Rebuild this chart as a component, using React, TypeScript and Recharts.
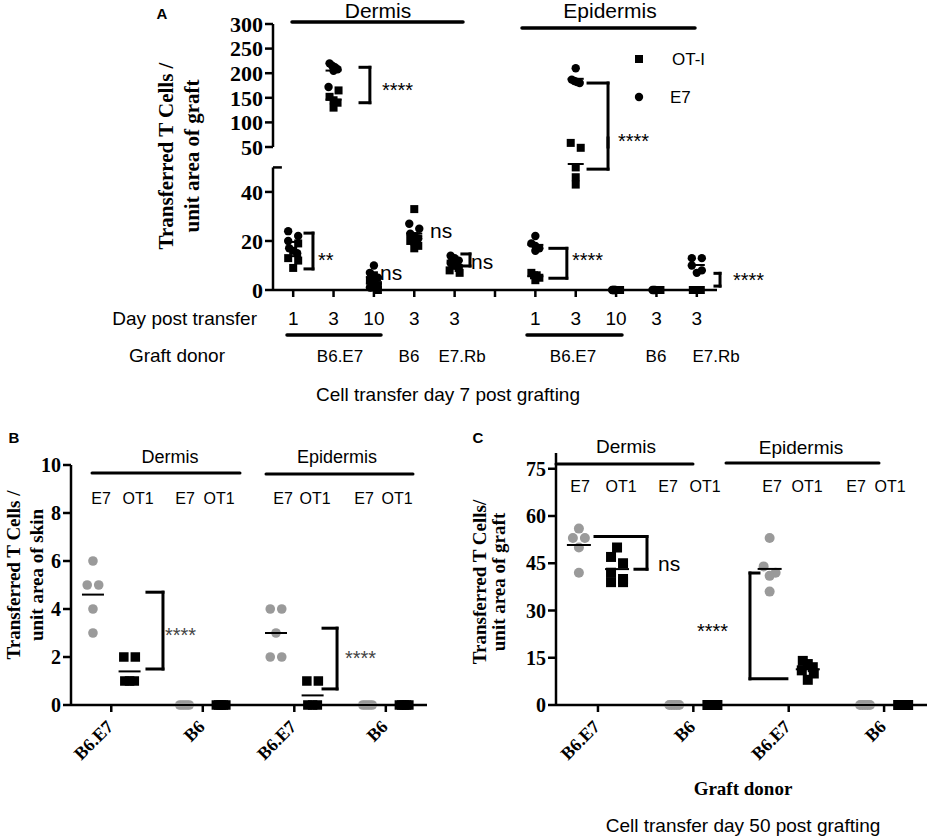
import React from "react";
import { ReferenceLine, Scatter, ScatterChart, XAxis, YAxis } from "recharts";

const W = 930;
const H = 838;
const SANS = '"Liberation Sans", Arial, sans-serif';
const SERIF = '"Liberation Serif", "Times New Roman", serif';
const GRAY = "#9a9a9a";

// ---------- data ----------
// Panel A: 11 slots along x, slot 5 is the empty gap between dermis and epidermis
const aDays = ["1", "3", "10", "3", "3", "", "1", "3", "10", "3", "3"];
const aE7 = [
  [24, 22, 20, 17, 15],
  [220, 215, 212, 208, 205, 172],
  [10, 7, 5, 3, 1],
  [27, 25, 23, 21, 19],
  [14, 13, 12, 11, 10],
  [],
  [22, 19, 18, 17, 16],
  [210, 187, 184, 182, 180],
  [0, 0, 0, 0, 0],
  [0, 0, 0],
  [13, 13, 10, 8, 7],
];
const aOT1 = [
  [19, 16, 13, 12, 9],
  [165, 152, 145, 140, 130],
  [6, 4, 2, 1, 0],
  [33, 22, 20, 18, 17],
  [11, 10, 9, 8, 7],
  [],
  [7, 6, 6, 5, 4],
  [60, 58, 50, 46, 43],
  [0, 0, 0, 0, 0],
  [0, 0, 0, 0],
  [0, 0, 0, 0, 0],
];
const aTopTicks = [50, 100, 150, 200, 250, 300];
const aLowTicks = [0, 20, 40];

// Panels B and C: dermis B6.E7, dermis B6, epidermis B6.E7, epidermis B6
const donors = ["B6.E7", "B6", "B6.E7", "B6"];
const bE7 = [[6, 5, 5, 4, 3], [0, 0, 0, 0, 0], [4, 4, 3, 2, 2], [0, 0, 0, 0, 0]];
const bOT1 = [[2, 2, 1, 1, 1], [0, 0, 0, 0, 0], [1, 1, 0, 0, 0], [0, 0, 0, 0, 0]];
const bTicks = [0, 2, 4, 6, 8, 10];
const cE7 = [[56, 53, 53, 50, 42], [0, 0, 0, 0, 0], [53, 44, 42, 41, 36], [0, 0, 0, 0, 0]];
const cOT1 = [[50, 47, 45, 42, 40, 39, 39], [0, 0, 0, 0, 0], [14, 13, 12, 11, 10, 8], [0, 0, 0, 0, 0]];
const cTicks = [0, 15, 30, 45, 60, 75];

// ---------- layout helpers ----------
type P = { x: number; y: number; dx: number };

const mean = (a: number[]) => a.reduce((s, v) => s + v, 0) / a.length;

// simple row-based beeswarm: points close in y share a row and get spread sideways
function swarm(vals: number[], ppu: number, size: number): number[] {
  const order = vals.map((_, i) => i).sort((a, b) => vals[b] - vals[a]);
  const out = vals.map(() => 0);
  let row: number[] = [];
  const flush = () => {
    const n = row.length;
    const step = n === 2 ? size + 2 : n > 2 ? size / (n - 1) : 0;
    row.forEach((idx, k) => (out[idx] = (k - (n - 1) / 2) * step));
    row = [];
  };
  for (const i of order) {
    if (row.length && (vals[row[0]] - vals[i]) * ppu > size * 0.8) flush();
    row.push(i);
  }
  flush();
  return out;
}

const A_SPLIT = 62;
function buildA(upper: boolean) {
  const e7: P[] = [];
  const ot: P[] = [];
  const means: P[] = [];
  aDays.forEach((_, g) => {
    const pts = [
      ...aE7[g].map((v) => ({ v, k: 0 })),
      ...aOT1[g].map((v) => ({ v, k: 1 })),
    ].filter((p) => p.v > A_SPLIT === upper);
    const offs = swarm(pts.map((p) => p.v), upper ? 123 / 250 : 152 / 62, 8);
    pts.forEach((p, i) => (p.k ? ot : e7).push({ x: g, y: p.v, dx: offs[i] }));
    [aE7[g], aOT1[g]].forEach((arr) => {
      if (arr.length && mean(arr) > A_SPLIT === upper) means.push({ x: g, y: mean(arr), dx: 0 });
    });
  });
  return { e7, ot, means };
}

function buildBC(e7s: number[][], ots: number[][], ppu: number, size: number) {
  const e7: P[] = [];
  const ot: P[] = [];
  const means: P[] = [];
  const col = (src: number[][], shift: number, dst: P[]) =>
    src.forEach((vals, g) => {
      const o = swarm(vals, ppu, size);
      vals.forEach((v, i) => dst.push({ x: g + shift, y: v, dx: o[i] }));
      means.push({ x: g + shift, y: mean(vals), dx: 0 });
    });
  col(e7s, -0.2, e7);
  col(ots, 0.2, ot);
  return { e7, ot, means };
}

const aUp = buildA(true);
const aLow = buildA(false);
const bData = buildBC(bE7, bOT1, 24, 9.5);
const cData = buildBC(cE7, cOT1, 3.15, 10);

// ---------- shapes ----------
const square = (size: number, fill: string) => (p: any) =>
  <rect x={p.cx + (p.payload?.dx ?? 0) - size / 2} y={p.cy - size / 2} width={size} height={size} fill={fill} />;
const dot = (r: number, fill: string) => (p: any) =>
  <circle cx={p.cx + (p.payload?.dx ?? 0)} cy={p.cy} r={r} fill={fill} />;
const meanBar = (w: number) => (p: any) =>
  <line x1={p.cx - w / 2} x2={p.cx + w / 2} y1={p.cy} y2={p.cy} stroke="#000" strokeWidth={2} />;

type Br = { xv: number; xt: number; xb: number; yt: number; yb: number };
function bracket(b: Br, key: string) {
  const segs: number[][] = [[b.xv, b.yt, b.xv, b.yb]];
  if (b.xt !== b.xv) segs.push([b.xt, b.yt, b.xv, b.yt]);
  if (b.xb !== b.xv) segs.push([b.xb, b.yb, b.xv, b.yb]);
  return segs.map((s, i) => (
    <ReferenceLine
      key={key + i}
      segment={[{ x: s[0], y: s[1] }, { x: s[2], y: s[3] }]}
      stroke="#000"
      strokeWidth={3}
      strokeLinecap="square"
      ifOverflow="visible"
    />
  ));
}

const aUpBrackets: Br[] = [
  { xv: 1.9, xt: 1.656, xb: 1.656, yt: 212, yb: 140 },
  { xv: 7.8, xt: 7.305, xb: 7.8, yt: 180, yb: 50 },
];
const aLowBrackets: Br[] = [
  { xv: 0.49, xt: 0.293, xb: 0.293, yt: 23.2, yb: 8.6 },
  { xv: 4.38, xt: 4.18, xb: 4.18, yt: 14.7, yb: 9.8 },
  { xv: 6.78, xt: 6.36, xb: 6.36, yt: 17, yb: 4.8 },
  { xv: 7.8, xt: 7.8, xb: 7.305, yt: 62, yb: 49.3 },
  { xv: 10.575, xt: 10.45, xb: 10.45, yt: 6.8, yb: 1.6 },
];
const bBrackets: Br[] = [
  { xv: 0.565, xt: 0.39, xb: 0.39, yt: 4.7, yb: 1.5 },
  { xv: 2.467, xt: 2.314, xb: 2.314, yt: 3.2, yb: 0.67 },
];
const cBrackets: Br[] = [
  { xv: 0.514, xt: -0.031, xb: 0.388, yt: 53.5, yb: 43.1 },
  { xv: 1.594, xt: 1.688, xb: 1.981, yt: 41.9, yb: 8.3 },
];

const axisStroke = { stroke: "#000", strokeWidth: 2.5 };
const serifTick = { fontFamily: SERIF, fontWeight: 700, fontSize: 20, fill: "#000" };
const serifTickA = { ...serifTick, fontSize: 22 };
const layer: React.CSSProperties = { position: "absolute", left: 0, top: 0 };

const DonorTick = (p: any) => {
  const x = p.x + 3;
  const y = p.y + 14;
  return (
    <text x={x} y={y} transform={`rotate(-45 ${x} ${y})`} textAnchor="end" fontFamily={SERIF} fontWeight={700} fontSize={18} fill="#000">
      {donors[p.payload.value]}
    </text>
  );
};

function T(props: { x: number; y: number; children: React.ReactNode; size?: number; anchor?: string; bold?: boolean; serif?: boolean; fill?: string; rot?: boolean }) {
  const { x, y, children, size = 19, anchor = "middle", bold, serif, fill = "#000", rot } = props;
  return (
    <text
      x={x}
      y={y}
      transform={rot ? `rotate(-90 ${x} ${y})` : undefined}
      textAnchor={anchor as any}
      fontFamily={serif ? SERIF : SANS}
      fontWeight={bold ? 700 : 400}
      fontSize={size}
      fill={fill}
    >
      {children}
    </text>
  );
}

const Bar = ({ x1, x2, y, w = 3 }: { x1: number; x2: number; y: number; w?: number }) => (
  <line x1={x1} x2={x2} y1={y} y2={y} stroke="#000" strokeWidth={w} strokeLinecap="round" />
);

function Overlay() {
  return (
    <svg width={W} height={H} style={{ ...layer, pointerEvents: "none" }}>
      {/* panel A */}
      <T x={162} y={19} size={15} bold>A</T>
      <T x={378} y={18} size={21}>Dermis</T>
      <Bar x1={292} x2={463} y={22} w={3.5} />
      <T x={610} y={18} size={21}>Epidermis</T>
      <Bar x1={522} x2={695} y={28} w={3.5} />
      <rect x={635} y={55} width={8} height={8} fill="#000" />
      <T x={672} y={65} size={17} anchor="start">OT-I</T>
      <circle cx={639} cy={97} r={4.2} fill="#000" />
      <T x={670} y={103} size={17} anchor="start">E7</T>
      <T x={173} y={156} size={21} bold serif rot>Transferred T Cells /</T>
      <T x={199} y={156} size={21} bold serif rot>unit area of graft</T>
      <T x={257} y={325} anchor="end">Day post transfer</T>
      <T x={225} y={362} anchor="end">Graft donor</T>
      <Bar x1={287} x2={381} y={335} w={3.5} />
      <Bar x1={527} x2={622} y={335} w={3.5} />
      <T x={340} y={362} size={17}>B6.E7</T>
      <T x={409} y={362} size={17}>B6</T>
      <T x={462} y={362} size={17}>E7.Rb</T>
      <T x={573} y={362} size={17}>B6.E7</T>
      <T x={656} y={362} size={17}>B6</T>
      <T x={716} y={362} size={17}>E7.Rb</T>
      <T x={448} y={401}>Cell transfer day 7 post grafting</T>
      <T x={382} y={97} size={20} anchor="start">****</T>
      <T x={318} y={267} size={20} anchor="start">**</T>
      <T x={380} y={280} size={21} anchor="start">ns</T>
      <T x={430} y={238} size={21} anchor="start">ns</T>
      <T x={471} y={269} size={21} anchor="start">ns</T>
      <T x={618} y={148} size={20} anchor="start">****</T>
      <T x={572} y={267} size={20} anchor="start">****</T>
      <T x={733} y={287} size={20} anchor="start">****</T>

      {/* panel B */}
      <T x={14} y={443} size={15} bold>B</T>
      <T x={170} y={463} size={18}>Dermis</T>
      <Bar x1={92} x2={240} y={473} />
      <T x={337} y={463} size={18}>Epidermis</T>
      <Bar x1={266} x2={413} y={474} />
      {[[101, "E7"], [138, "OT1"], [185, "E7"], [219, "OT1"], [283, "E7"], [315, "OT1"], [364, "E7"], [397, "OT1"]].map(([x, t], i) => (
        <T key={"b" + i} x={x as number} y={504} size={16}>{t}</T>
      ))}
      <T x={20} y={575} size={19} bold serif rot>Transferred T Cells /</T>
      <T x={43} y={575} size={19} bold serif rot>unit area of skin</T>
      <T x={165} y={642} size={20} anchor="start" fill="#444">****</T>
      <T x={345} y={665} size={20} anchor="start" fill="#444">****</T>

      {/* panel C */}
      <T x={478} y={443} size={15} bold>C</T>
      <T x={626} y={453} size={19}>Dermis</T>
      <Bar x1={556} x2={693} y={464} />
      <T x={801} y={454} size={19}>Epidermis</T>
      <Bar x1={726} x2={879} y={463} />
      {[[580, "E7"], [621, "OT1"], [668, "E7"], [705, "OT1"], [772, "E7"], [807, "OT1"], [856, "E7"], [890, "OT1"]].map(([x, t], i) => (
        <T key={"c" + i} x={x as number} y={492} size={16}>{t}</T>
      ))}
      <T x={486} y={582} size={19} bold serif rot>Transferred T Cells/</T>
      <T x={505} y={582} size={19} bold serif rot>unit area of graft</T>
      <T x={658} y={571} size={21} anchor="start">ns</T>
      <T x={697} y={638} size={20} anchor="start">****</T>
      <T x={743} y={795} size={19} bold serif>Graft donor</T>
      <T x={743} y={832}>Cell transfer day 50 post grafting</T>
    </svg>
  );
}

export default function App() {
  const slots = aDays.map((_, i) => i);
  return (
    <div style={{ ...layer, width: W, height: H, background: "#fff", overflow: "hidden" }}>
      {/* A, upper segment of the broken axis */}
      <div style={layer}>
        <ScatterChart width={W} height={H} margin={{ top: 24, right: 213, bottom: H - 147, left: 213 }}>
          <XAxis type="number" dataKey="x" domain={[-0.5, 10.5]} hide />
          <YAxis type="number" dataKey="y" domain={[50, 300]} ticks={aTopTicks} width={60} axisLine={axisStroke} tickLine={axisStroke} tickSize={8} tick={serifTickA} interval={0} />
          <Scatter data={aUp.e7} shape={dot(4.2, "#000")} isAnimationActive={false} />
          <Scatter data={aUp.ot} shape={square(8, "#000")} isAnimationActive={false} />
          <Scatter data={aUp.means} shape={meanBar(16)} isAnimationActive={false} />
          {aUpBrackets.map((b, i) => bracket(b, "au" + i))}
        </ScatterChart>
      </div>
      {/* A, lower segment */}
      <div style={layer}>
        <ScatterChart width={W} height={H} margin={{ top: 138, right: 213, bottom: H - 290 - 30, left: 213 }}>
          <XAxis
            type="number"
            dataKey="x"
            domain={[-0.5, 10.5]}
            ticks={slots}
            interval={0}
            height={30}
            tickFormatter={(v: number) => aDays[v]}
            axisLine={axisStroke}
            tickLine={axisStroke}
            tickSize={7}
            tickMargin={15}
            tick={{ fontFamily: SANS, fontSize: 19, fill: "#000" }}
          />
          <YAxis type="number" dataKey="y" domain={[0, 62]} ticks={aLowTicks} width={60} axisLine={false} tickLine={axisStroke} tickSize={8} tick={serifTickA} interval={0} />
          <ReferenceLine segment={[{ x: -0.5, y: 0 }, { x: -0.5, y: 50 }]} stroke="#000" strokeWidth={2.5} ifOverflow="visible" />
          <ReferenceLine segment={[{ x: -0.5, y: 50 }, { x: -0.28, y: 50 }]} stroke="#000" strokeWidth={2.5} ifOverflow="visible" />
          <Scatter data={aLow.e7} shape={dot(4.2, "#000")} isAnimationActive={false} />
          <Scatter data={aLow.ot} shape={square(8, "#000")} isAnimationActive={false} />
          <Scatter data={aLow.means} shape={meanBar(16)} isAnimationActive={false} />
          {aLowBrackets.map((b, i) => bracket(b, "al" + i))}
        </ScatterChart>
      </div>
      {/* B */}
      <div style={layer}>
        <ScatterChart width={W} height={H} margin={{ top: 465, right: W - 427, bottom: H - 705 - 60, left: 21 }}>
          <XAxis type="number" dataKey="x" domain={[-0.44, 3.45]} ticks={[0, 1, 2, 3]} interval={0} height={60} axisLine={axisStroke} tickLine={axisStroke} tickSize={7} tick={<DonorTick />} />
          <YAxis type="number" dataKey="y" domain={[0, 10]} ticks={bTicks} width={50} axisLine={axisStroke} tickLine={axisStroke} tickSize={8} tick={serifTick} interval={0} />
          <Scatter data={bData.e7} shape={dot(4.8, GRAY)} isAnimationActive={false} />
          <Scatter data={bData.ot} shape={square(9.5, "#000")} isAnimationActive={false} />
          <Scatter data={bData.means} shape={meanBar(22)} isAnimationActive={false} />
          {bBrackets.map((b, i) => bracket(b, "b" + i))}
        </ScatterChart>
      </div>
      {/* C */}
      <div style={layer}>
        <ScatterChart width={W} height={H} margin={{ top: 453, right: 3, bottom: H - 705 - 60, left: 506 }}>
          <XAxis type="number" dataKey="x" domain={[-0.44, 3.45]} ticks={[0, 1, 2, 3]} interval={0} height={60} axisLine={axisStroke} tickLine={axisStroke} tickSize={7} tick={<DonorTick />} />
          <YAxis type="number" dataKey="y" domain={[0, 80]} ticks={cTicks} width={50} axisLine={axisStroke} tickLine={axisStroke} tickSize={8} tick={serifTick} interval={0} />
          <Scatter data={cData.e7} shape={dot(5, GRAY)} isAnimationActive={false} />
          <Scatter data={cData.ot} shape={square(10, "#000")} isAnimationActive={false} />
          <Scatter data={cData.means} shape={meanBar(24)} isAnimationActive={false} />
          {cBrackets.map((b, i) => bracket(b, "c" + i))}
        </ScatterChart>
      </div>
      <Overlay />
    </div>
  );
}
